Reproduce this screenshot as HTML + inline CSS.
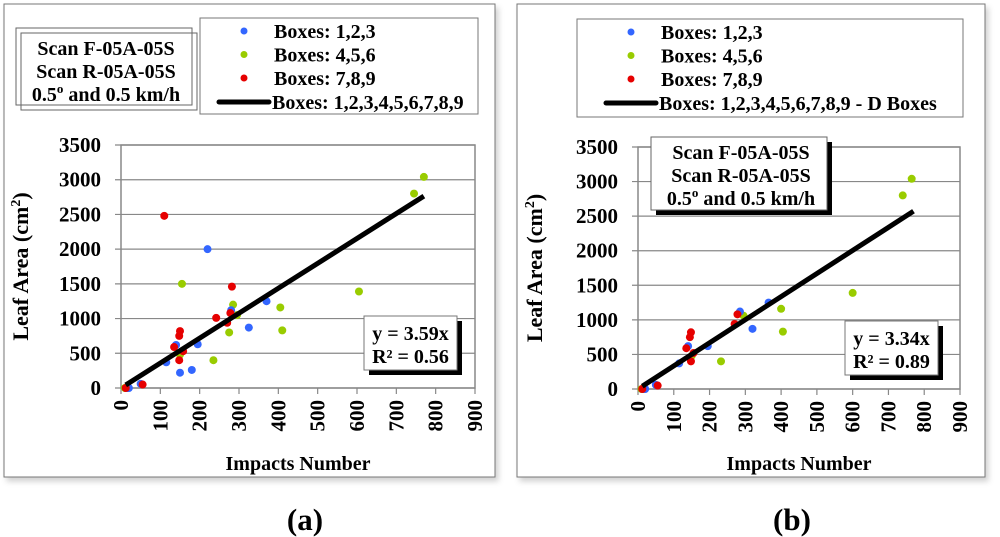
<!DOCTYPE html>
<html><head><meta charset="utf-8"><style>
body{margin:0;background:#fff}
svg{display:block;font-family:"Liberation Serif",serif;font-weight:bold}
</style></head><body>
<svg id="s" width="1000" height="537" viewBox="0 0 1000 537" xmlns="http://www.w3.org/2000/svg">
<defs><filter id="sh" x="-5%" y="-5%" width="110%" height="110%"><feDropShadow dx="3" dy="4" stdDeviation="3" flood-color="#000" flood-opacity="0.18"/></filter></defs>
<rect x="4" y="4" width="491" height="473" fill="#fff" stroke="#777" filter="url(#sh)"/>
<rect x="517" y="4" width="468" height="473" fill="#fff" stroke="#777" filter="url(#sh)"/>
<g id="ga"></g><g id="gb"></g>
<text x="305" y="530" font-size="31" text-anchor="middle">(a)</text>
<text x="792" y="530" font-size="31" text-anchor="middle">(b)</text>
</svg>
<script>
const xTicks=[0,100,200,300,400,500,600,700,800,900];
const yTicks=[0,500,1000,1500,2000,2500,3000,3500];
const aBlueX=[15,20,50,115,140,150,180,195,220,280,325,370];
const aBlueY=[0,0,60,370,620,220,260,630,2000,1120,870,1250];
const aGreenX=[10,150,155,235,275,285,295,405,410,605,745,770];
const aGreenY=[0,480,1500,400,800,1200,1050,1160,830,1390,2800,3040];
const aRedX=[12,55,110,135,148,150,148,158,242,270,278,282];
const aRedY=[0,50,2480,590,750,820,400,530,1010,940,1080,1460];
const aSlope=3.59, aLineX=[12,770];
const bBlueX=[15,20,50,115,140,195,285,320,365];
const bBlueY=[0,0,60,370,620,620,1120,870,1250];
const bGreenX=[10,150,232,295,400,405,600,740,765];
const bGreenY=[0,480,400,1060,1160,830,1390,2800,3040];
const bRedX=[12,55,135,145,148,148,155,270,278];
const bRedY=[0,50,590,750,820,400,520,940,1080];
const bSlope=3.34, bLineX=[12,770];
const NS="http://www.w3.org/2000/svg";
function mk(p,t,a,txt){const e=document.createElementNS(NS,t);for(const k in a)e.setAttribute(k,a[k]);if(txt!==undefined)e.textContent=txt;p.appendChild(e);return e;}
function chart(g,P,d){
  const sx=v=>P.x0+(v/900)*(P.x1-P.x0), sy=v=>P.y0-(v/3500)*(P.y0-P.y1);
  let r=mk(g,'rect',{x:P.x0,y:P.y1,width:P.x1-P.x0,height:P.y0-P.y1,fill:'#fff',stroke:'#888','stroke-width':1.5});
  
  
  yTicks.forEach(v=>{
    const l=mk(g,'line',{x1:P.x0-6,x2:P.x1,y1:sy(v),y2:sy(v),stroke:'#888','stroke-width':1.2});
    
    
    const t=mk(g,'text',{x:P.x0-20,y:sy(v)+7,'font-size':21,'text-anchor':'end'},v);
    
    
  });
  xTicks.forEach(v=>{
    const l=mk(g,'line',{x1:sx(v),x2:sx(v),y1:P.y0,y2:P.y0+6,stroke:'#888','stroke-width':1.2});
    
    
    const t=mk(g,'text',{x:0,y:0,'font-size':21,'text-anchor':'end',transform:`translate(${sx(v)+7},${P.y0+12}) rotate(-90)`},v);
    
    
  });
  const series=[[d.gx,d.gy,'#99cc00','green'],[d.bx,d.by,'#3366ff','blue'],[d.rx,d.ry,'#e60000','red']];
  series.forEach(s=>s[0].forEach((x,i)=>{
    const c=mk(g,'circle',{cx:sx(x),cy:sy(s[1][i]),r:4,fill:s[2]});
    
    
  }));
  const ln=mk(g,'line',{x1:sx(d.lx[0]),y1:sy(d.lx[0]*d.m),x2:sx(d.lx[1]),y2:sy(d.lx[1]*d.m),stroke:'#000','stroke-width':5});
  
  
  const yt=mk(g,'text',{x:0,y:0,'font-size':22,'text-anchor':'middle',transform:`translate(${P.yt},${(P.y0+P.y1)/2}) rotate(-90)`});
  yt.innerHTML='Leaf Area (cm<tspan font-size="14" dy="-8">2</tspan><tspan dy="8">)</tspan>';
  
  
  const xt=mk(g,'text',{x:(P.x0+P.x1)/2-(P.x1-P.x0)*0.0,y:470,'font-size':20,'text-anchor':'middle'},'Impacts Number');
  
  
  const E=P.eq;
  mk(g,'rect',{x:E[0]+5,y:E[1]+5,width:E[2],height:E[3],fill:'#000'});
  const eb=mk(g,'rect',{x:E[0],y:E[1],width:E[2],height:E[3],fill:'#fff',stroke:'#777'});
  
  
  const e1=mk(g,'text',{x:E[0]+E[2]/2,y:E[1]+24,'font-size':20,'text-anchor':'middle'},'y = '+d.m.toFixed(2)+'x');
  
  
  const e2=mk(g,'text',{x:E[0]+E[2]/2,y:E[1]+47,'font-size':20,'text-anchor':'middle'},'R² = '+d.r2);
  
  
}
function scanBox(g,x,y,w,h,shadow){
  if(shadow){mk(g,'rect',{x:x+5,y:y+5,width:w,height:h,fill:'#000'});}
  else{mk(g,'rect',{x:x+5,y:y+5,width:w,height:h,fill:'none',stroke:'#666'});}
  const b=mk(g,'rect',{x:x,y:y,width:w,height:h,fill:shadow?'#fff':'none',stroke:'#666'});
  
  
  const cy=shadow?y:y+5;
  ['Scan F-05A-05S','Scan R-05A-05S'].forEach((s,i)=>{
    const t=mk(g,'text',{x:x+w/2+2,y:cy+22+i*23,'font-size':20,'text-anchor':'middle'},s);
    
    
  });
  const t3=mk(g,'text',{x:x+w/2+2,y:cy+68,'font-size':20,'text-anchor':'middle'});
  t3.innerHTML='0.5<tspan font-size="13" dy="-8">o</tspan><tspan dy="8"> and 0.5 km/h</tspan>';
  
  
}
function legend(g,x,y,w,h,dotX,txtX,last){
  const b=mk(g,'rect',{x:x,y:y,width:w,height:h,fill:'#fff',stroke:'#777'});
  
  
  const items=[['#3366ff','Boxes: 1,2,3'],['#99cc00','Boxes: 4,5,6'],['#e60000','Boxes: 7,8,9']];
  items.forEach((it,i)=>{
    const c=mk(g,'circle',{cx:dotX,cy:y+13+i*23.5,r:3.5,fill:it[0]});
    
    
    const t=mk(g,'text',{x:txtX,y:y+20+i*23.5,'font-size':20},it[1]);
    
    
  });
  const l=mk(g,'line',{x1:dotX-25,x2:dotX+25,y1:y+84,y2:y+84,stroke:'#000','stroke-width':5,'stroke-linecap':'round'});
  
  
  const t=mk(g,'text',{x:txtX-2,y:y+91,'font-size':20},last);
  
  
}
const ga=document.getElementById('ga'), gb=document.getElementById('gb');
chart(ga,{x0:121,x1:475,y0:388,y1:145,yt:28,eq:[364,316,93,54]},{bx:aBlueX,by:aBlueY,gx:aGreenX,gy:aGreenY,rx:aRedX,ry:aRedY,m:aSlope,lx:aLineX,r2:'0.56'});
chart(gb,{x0:638,x1:960,y0:389,y1:147,yt:542,eq:[845,321,93,54]},{bx:bBlueX,by:bBlueY,gx:bGreenX,gy:bGreenY,rx:bRedX,ry:bRedY,m:bSlope,lx:bLineX,r2:'0.89'});
scanBox(ga,16,28,176,77,false);
legend(ga,200,18,278,96,244,274,'Boxes: 1,2,3,4,5,6,7,8,9');
scanBox(gb,651,137,176,73,true);
legend(gb,577,19,386,98,631,661,'Boxes: 1,2,3,4,5,6,7,8,9 - D Boxes');
</script>
</body></html>
